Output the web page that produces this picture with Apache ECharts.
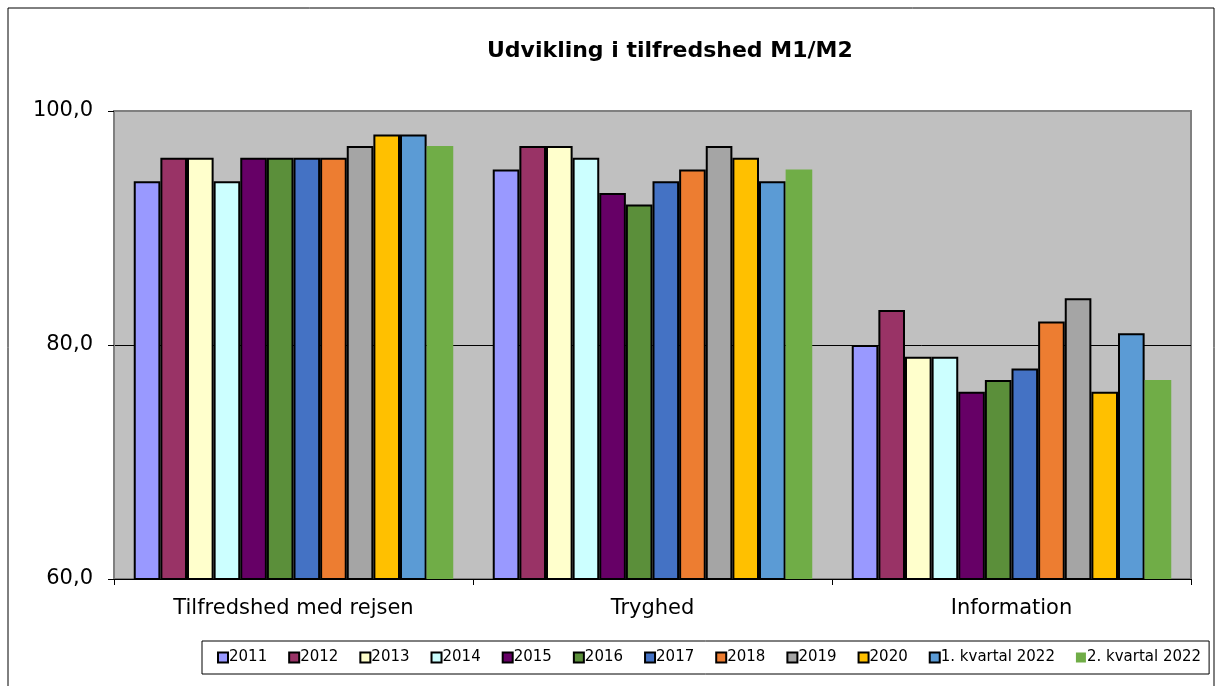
<!DOCTYPE html>
<html>
<head>
<meta charset="utf-8">
<script src="https://cdn.jsdelivr.net/npm/echarts@6/dist/echarts.min.js"></script>
<style>
html,body{margin:0;padding:0;background:#fff;}
#chart{width:1216px;height:686px;}
</style>
</head>
<body>
<div id="chart"></div>
<script>
var categories = ['Tilfredshed med rejsen', 'Tryghed', 'Information'];
var seriesNames = ['2011', '2012', '2013', '2014', '2015', '2016', '2017', '2018', '2019', '2020', '1. kvartal 2022', '2. kvartal 2022'];
var seriesColors = ['#9999FF', '#993366', '#FFFFCC', '#CCFFFF', '#660066', '#5B8F3A', '#4472C4', '#ED7D31', '#A5A5A5', '#FFC000', '#5B9BD5', '#70AD47'];
var v2011 = [94, 95, 80];
var v2012 = [96, 97, 83];
var v2013 = [96, 97, 79];
var v2014 = [94, 96, 79];
var v2015 = [96, 93, 76];
var v2016 = [96, 92, 77];
var v2017 = [96, 94, 78];
var v2018 = [96, 95, 82];
var v2019 = [97, 97, 84];
var v2020 = [98, 96, 76];
var vQ1 = [98, 94, 81];
var vQ2 = [97, 95, 77];
var seriesValues = [v2011, v2012, v2013, v2014, v2015, v2016, v2017, v2018, v2019, v2020, vQ1, vQ2];

var font = 'Verdana, "DejaVu Sans", sans-serif';

var series = seriesNames.map(function (name, i) {
    var last = i === seriesNames.length - 1;
    return {
        name: name,
        type: 'bar',
        data: seriesValues[i],
        barGap: '0%',
        barCategoryGap: '11%',
        itemStyle: {
            color: seriesColors[i],
            borderColor: '#000',
            borderWidth: last ? 0 : 2
        }
    };
});

var chart = echarts.init(document.getElementById('chart'));
chart.setOption({
    animation: false,
    graphic: [{
        type: 'rect',
        shape: { x: 8, y: 8, width: 1206, height: 690 },
        style: { fill: 'none', stroke: '#000', lineWidth: 1 },
        z: -1
    }],
    title: {
        text: 'Udvikling i tilfredshed M1/M2',
        left: 482,
        top: 35,
        textStyle: { fontFamily: font, fontSize: 22, fontWeight: 'bold', color: '#000' }
    },
    legend: {
        data: seriesNames,
        left: 202,
        top: 641,
        width: 1012,
        padding: [9, 8, 9, 15],
        itemWidth: 10,
        itemHeight: 10,
        itemGap: 21,
        borderColor: '#000',
        borderWidth: 1,
        icon: 'rect',
        textStyle: { fontFamily: font, fontSize: 15, color: '#000', padding: [0, 0, 0, -4] }
    },
    grid: {
        left: 114,
        top: 111,
        right: 25,
        bottom: 107,
        show: true,
        backgroundColor: '#C0C0C0',
        borderColor: '#808080',
        borderWidth: 2
    },
    xAxis: {
        type: 'category',
        data: categories,
        axisLine: { lineStyle: { color: '#000', width: 1 } },
        axisTick: { show: true, length: 6, lineStyle: { color: '#000' } },
        axisLabel: { fontFamily: font, fontSize: 21, color: '#000', margin: 19 }
    },
    yAxis: {
        type: 'value',
        min: 60,
        max: 100,
        interval: 20,
        axisLine: { show: true, lineStyle: { color: '#808080', width: 2 } },
        axisTick: { show: true, length: 6, lineStyle: { color: '#000' } },
        splitLine: { show: true, showMaxLine: false, showMinLine: false, lineStyle: { color: '#000', width: 1 } },
        axisLabel: {
            fontFamily: font, fontSize: 21, color: '#000', margin: 21,
            formatter: function (v) { return v.toFixed(1).replace('.', ','); }
        }
    },
    series: series
});
</script>
</body>
</html>
